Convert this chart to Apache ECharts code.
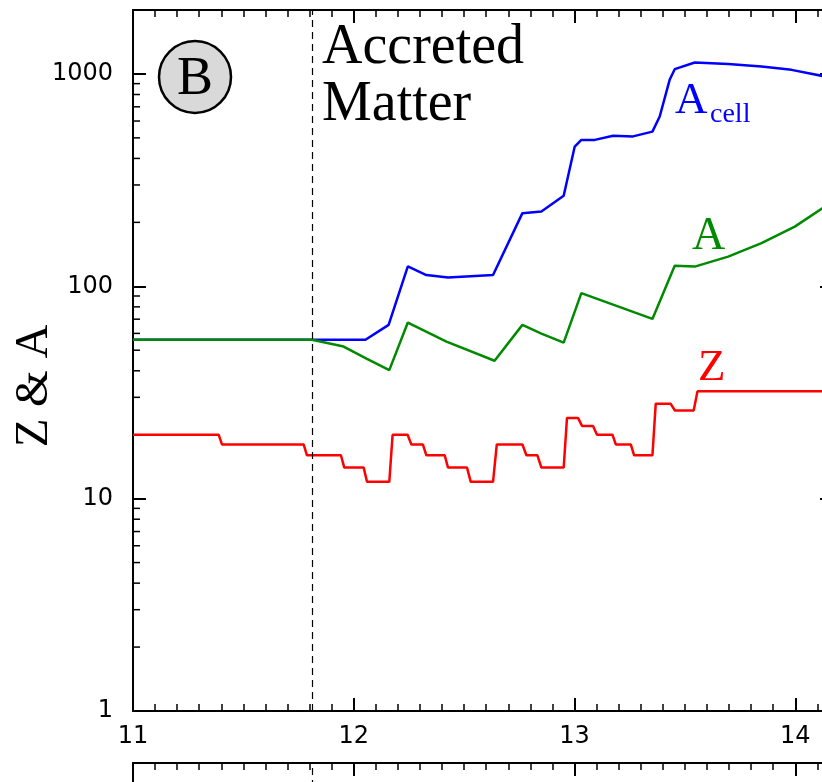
<!DOCTYPE html>
<html>
<head>
<meta charset="utf-8">
<script src="https://cdn.jsdelivr.net/npm/echarts@6/dist/echarts.min.js"></script>
<style>
  html, body { margin: 0; padding: 0; background: #fff; }
  #za-chart { width: 822px; height: 782px; }
</style>
</head>
<body>
<div id="za-chart"></div>
<script>
// Z (proton number), step-like
var zX = [11.000, 11.388, 11.403, 11.773, 11.788, 11.942, 11.957, 12.045, 12.060, 12.161,
  12.176, 12.244, 12.261, 12.313, 12.329, 12.412, 12.427, 12.513, 12.530, 12.631,
  12.648, 12.764, 12.782, 12.832, 12.850, 12.951, 12.966, 13.016, 13.034, 13.084,
  13.102, 13.172, 13.187, 13.255, 13.270, 13.353, 13.368, 13.435, 13.455, 13.540,
  13.557, 14.130];
var zVal = [20, 20, 18, 18, 16, 16, 14, 14, 12, 12,
  20, 20, 18, 18, 16, 16, 14, 14, 12, 12,
  18, 18, 16, 16, 14, 14, 24, 24, 22, 22,
  20, 20, 18, 18, 16, 16, 28, 28, 26, 26,
  32, 32];

// A (mass number)
var aX = [11.000, 11.811, 11.954, 12.060, 12.161, 12.245, 12.420, 12.638, 12.764, 12.850,
  12.951, 13.031, 13.353, 13.454, 13.545, 13.696, 13.847, 13.998, 14.130];
var aVal = [56, 56, 52, 45.5, 40.3, 67.5, 54.9, 44.6, 65.8, 59.9,
  54.3, 92.8, 70.2, 125, 123.8, 138, 159.6, 191, 236];

// A_cell
var cellX = [11.000, 11.811, 12.053, 12.158, 12.245, 12.329, 12.427, 12.631, 12.764, 12.850,
  12.951, 13.001, 13.031, 13.092, 13.175, 13.265, 13.353, 13.386, 13.431, 13.454,
  13.545, 13.696, 13.847, 13.983, 14.130];
var cellVal = [56, 56, 56, 65.8, 124, 113, 110, 113, 221, 225,
  267, 455, 489, 489, 511, 508, 535, 630, 938, 1053,
  1132, 1115, 1083, 1045, 975];

var boundaryX = 11.81;
var yMinorTicks = [2, 3, 4, 5, 6, 7, 8, 9, 20, 30, 40, 50, 60, 70, 80, 90, 200, 300, 400, 500, 600, 700, 800, 900];

function pairs(xs, ys) {
  return xs.map(function (x, i) { return [x, ys[i]]; });
}

var serif = '"Liberation Serif", "DejaVu Serif", serif';
var axisLineStyle = { show: true, onZero: false, lineStyle: { color: "#000", width: 2 } };
var majorTick = { show: true, inside: true, length: 13, lineStyle: { color: "#000", width: 2 } };
var minorTick = { show: true, splitNumber: 10, length: 7, lineStyle: { color: "#000", width: 1.5 } };

var chart = echarts.init(document.getElementById("za-chart"));
var option = {
  animation: false,
  backgroundColor: "#fff",
  grid: [
    { left: 133, top: 10, width: 883, height: 701, outerBoundsMode: "none" },
    { left: 133, top: 763, width: 883, height: 300, outerBoundsMode: "none" }
  ],
  xAxis: [
    {
      type: "value", gridIndex: 0, position: "bottom", min: 11, max: 15, interval: 1,
      axisLine: axisLineStyle, axisTick: majorTick, minorTick: minorTick,
      axisLabel: { margin: 14, showMaxLabel: false, color: "#000", fontSize: 24, fontFamily: "DejaVu Sans" },
      splitLine: { show: false }
    },
    {
      type: "value", gridIndex: 0, position: "top", min: 11, max: 15, interval: 1,
      axisLine: axisLineStyle, axisTick: majorTick, minorTick: minorTick,
      axisLabel: { show: false }, splitLine: { show: false }
    },
    {
      type: "value", gridIndex: 1, position: "top", min: 11, max: 15, interval: 1,
      axisLine: axisLineStyle, axisTick: majorTick, minorTick: minorTick,
      axisLabel: { show: false }, splitLine: { show: false }
    }
  ],
  yAxis: [
    {
      type: "log", gridIndex: 0, position: "left", min: 1, max: 2000, logBase: 10,
      axisLine: axisLineStyle, axisTick: majorTick,
      axisLabel: {
        margin: 20, showMaxLabel: false, color: "#000", fontSize: 24, fontFamily: "DejaVu Sans",
        formatter: function (v) { return String(Math.round(v)); }
      },
      splitLine: { show: false }
    },
    {
      type: "log", gridIndex: 0, position: "right", offset: -183, min: 1, max: 2000, logBase: 10,
      axisLine: axisLineStyle, axisTick: majorTick,
      axisLabel: { show: false }, splitLine: { show: false }
    },
    {
      type: "value", gridIndex: 1, min: 0, max: 1,
      axisLine: axisLineStyle, axisTick: { show: false },
      axisLabel: { show: false }, splitLine: { show: false }
    }
  ],
  series: [
    {
      name: "A_cell", type: "line", xAxisIndex: 0, yAxisIndex: 0,
      data: pairs(cellX, cellVal), showSymbol: false,
      lineStyle: { color: "#0000ff", width: 2.5 }, itemStyle: { color: "#0000ff" }
    },
    {
      name: "A", type: "line", xAxisIndex: 0, yAxisIndex: 0,
      data: pairs(aX, aVal), showSymbol: false,
      lineStyle: { color: "#008a00", width: 2.5 }, itemStyle: { color: "#008a00" },
      markLine: {
        silent: true, symbol: ["none", "none"], label: { show: false },
        lineStyle: { color: "#000", width: 1.2, type: [7, 5] },
        data: [{ xAxis: boundaryX }]
      }
    },
    {
      name: "Z", type: "line", xAxisIndex: 0, yAxisIndex: 0,
      data: pairs(zX, zVal), showSymbol: false,
      lineStyle: { color: "#ff0000", width: 2.5 }, itemStyle: { color: "#ff0000" }
    },
    {
      // minor log ticks on the left axis
      type: "custom", xAxisIndex: 0, yAxisIndex: 0, silent: true, clip: false,
      data: yMinorTicks.map(function (v) { return [11, v]; }),
      renderItem: function (params, api) {
        var p = api.coord([11, api.value(1)]);
        return {
          type: "line",
          shape: { x1: p[0], y1: p[1], x2: p[0] + 7, y2: p[1] },
          style: { stroke: "#000", lineWidth: 1.5 }
        };
      }
    },
    {
      // dashed boundary continues into the panel below
      type: "line", xAxisIndex: 2, yAxisIndex: 2, data: [],
      markLine: {
        silent: true, symbol: ["none", "none"], label: { show: false },
        lineStyle: { color: "#000", width: 1.2, type: [7, 5] },
        data: [{ xAxis: boundaryX }]
      }
    }
  ],
  graphic: [
    { type: "circle", shape: { cx: 195, cy: 77, r: 36 }, style: { fill: "#d9d9d9", stroke: "#000", lineWidth: 2.5 } },
    { type: "text", x: 195, y: 80, style: { text: "B", font: "54px " + serif, fill: "#000", align: "center", verticalAlign: "middle" } },
    { type: "text", x: 322, y: 48, style: { text: "Accreted", font: "56px " + serif, fill: "#000", verticalAlign: "middle" } },
    { type: "text", x: 322, y: 105, style: { text: "Matter", font: "56px " + serif, fill: "#000", verticalAlign: "middle" } },
    { type: "text", x: 675, y: 101, style: { text: "A", font: "45px " + serif, fill: "#0000ff", verticalAlign: "middle" } },
    { type: "text", x: 710, y: 115, style: { text: "cell", font: "28px " + serif, fill: "#0000ff", verticalAlign: "middle" } },
    { type: "text", x: 692, y: 237, style: { text: "A", font: "46px " + serif, fill: "#008a00", verticalAlign: "middle" } },
    { type: "text", x: 698, y: 368, style: { text: "Z", font: "45px " + serif, fill: "#ff0000", verticalAlign: "middle" } },
    { type: "text", x: 35, y: 386, rotation: Math.PI / 2, style: { text: "Z & A", font: "47px " + serif, fill: "#000", align: "center", verticalAlign: "middle" } }
  ]
};
chart.setOption(option);
</script>
</body>
</html>
